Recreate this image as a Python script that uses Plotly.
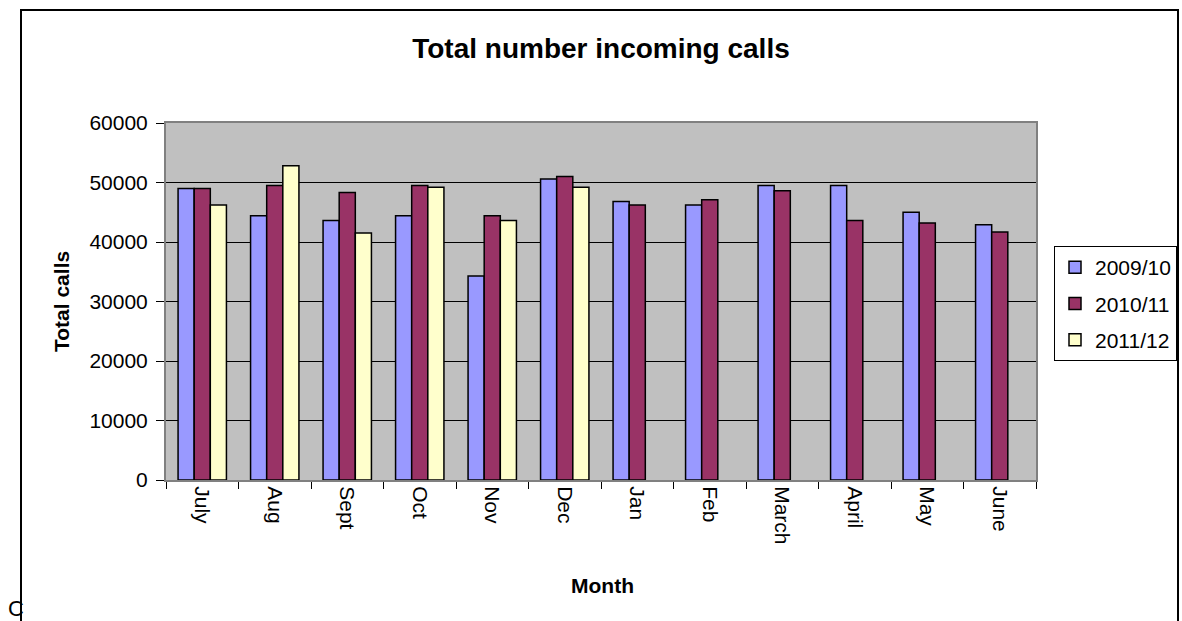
import plotly.graph_objects as go

months = ["July", "Aug", "Sept", "Oct", "Nov", "Dec", "Jan", "Feb", "March", "April", "May", "June"]
s2009 = [49000, 44400, 43600, 44400, 34300, 50600, 46800, 46200, 49500, 49500, 45000, 42900]
s2010 = [49000, 49500, 48300, 49500, 44400, 51000, 46200, 47100, 48600, 43600, 43200, 41700]
s2011 = [46200, 52800, 41500, 49200, 43600, 49200, None, None, None, None, None, None]

series = [("2009/10", s2009, "#9999FF"), ("2010/11", s2010, "#993366"), ("2011/12", s2011, "#FFFFCC")]

FONT = "Arial, 'Liberation Sans', sans-serif"

fig = go.Figure()
for i, (name, vals, col) in enumerate(series):
    fig.add_trace(go.Bar(
        x=months, y=vals, name=name, legendgroup=f"g{i}",
        marker=dict(color=col, line=dict(color="#000000", width=1.5)),
    ))

W, H = 1182, 621
L, R, T, B = 166, 1036, 123, 480
pw, ph = R - L, B - T

def px(x):
    return (x - L) / pw

def py(y):
    return (B - y) / ph

fig.update_layout(
    width=W, height=H,
    margin=dict(l=L, r=W - R, t=T, b=H - B, autoexpand=False),
    paper_bgcolor="white", plot_bgcolor="#C0C0C0",
    barmode="group", bargap=0.333, bargroupgap=0,
    font=dict(family=FONT, size=21, color="#000000"),
    title=dict(text="<b>Total number incoming calls</b>", x=0.5, xref="paper",
               y=1 - 48 / H, yref="container", xanchor="center", yanchor="middle",
               font=dict(size=28, family=FONT, color="#000000")),
    showlegend=True,
    legend=dict(x=px(1054), y=py(246), xanchor="left", yanchor="top",
                bordercolor="#000000", borderwidth=1, bgcolor="white",
                font=dict(size=21, family=FONT), tracegroupgap=6,
                traceorder="grouped", itemwidth=30),
    xaxis=dict(
        type="category", tickson="boundaries", ticks="outside", ticklen=7,
        tickcolor="#000000", tickangle=90, showgrid=False,
        showline=True, linecolor="#808080", linewidth=2, mirror=True,
        tickfont=dict(size=21, family=FONT),
        automargin=False,
    ),
    yaxis=dict(
        range=[0, 60000], tickvals=[0, 10000, 20000, 30000, 40000, 50000, 60000],
        ticktext=["0", "10000", "20000", "30000", "40000", "50000", "60000"],
        ticks="outside", ticklen=8, tickcolor="#000000", ticklabelstandoff=4,
        showgrid=True, gridcolor="#000000", gridwidth=1,
        showline=True, linecolor="#808080", linewidth=2, mirror=True,
        zeroline=False,
        tickfont=dict(size=21, family=FONT),
        automargin=False,
    ),
)

# outer chart frame
fig.add_shape(type="rect", xref="paper", yref="paper",
              x0=px(21), x1=px(1178), y0=py(640), y1=py(10),
              line=dict(color="#000000", width=2), fillcolor="rgba(0,0,0,0)", layer="below")

fig.add_annotation(text="<b>Month</b>", xref="paper", yref="paper", x=px(602), y=py(585),
                   showarrow=False, font=dict(size=21, family=FONT), xanchor="center", yanchor="middle")
fig.add_annotation(text="<b>Total calls</b>", xref="paper", yref="paper", x=px(61), y=py(302),
                   showarrow=False, textangle=-90, font=dict(size=21, family=FONT),
                   xanchor="center", yanchor="middle")
# character at bottom-left edge
fig.add_annotation(text="C", xref="paper", yref="paper", x=px(6), y=py(594),
                   showarrow=False, font=dict(size=22, family=FONT),
                   xanchor="left", yanchor="top")

fig.write_html("out.html", config={"displayModeBar": False},
               post_script="document.body.style.margin='0';document.body.style.overflow='hidden';")
